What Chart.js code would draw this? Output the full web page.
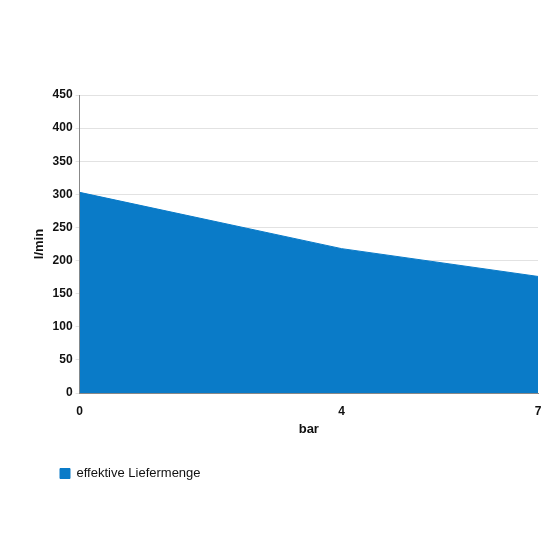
<!DOCTYPE html>
<html>
<head>
<meta charset="utf-8">
<script src="https://cdn.jsdelivr.net/npm/chart.js@4/dist/chart.umd.min.js"></script>
<style>
  body { margin: 0; background: #fff; }
  #wrap { position: absolute; left: 0; top: 0; width: 550px; height: 550px; }
</style>
</head>
<body>
<div id="wrap"><canvas id="chart" width="550" height="550"></canvas></div>
<script>
// data
const pressures = [0, 4, 7];
const flowRates = [303, 218, 176];
const seriesName = "effektive Liefermenge";

const points = pressures.map((p, i) => ({ x: p, y: flowRates[i] }));

new Chart(document.getElementById("chart"), {
  type: "line",
  data: {
    datasets: [{
      label: seriesName,
      data: points,
      borderColor: "#0a7bc8",
      backgroundColor: "#0a7bc8",
      borderWidth: 1,
      fill: "origin",
      pointRadius: 0,
      tension: 0
    }]
  },
  options: {
    responsive: false,
    animation: false,
    layout: { padding: { left: 30, right: 12, top: 95, bottom: 60 } },
    plugins: {
      legend: {
        position: "bottom",
        align: "start",
        labels: {
          boxWidth: 10, boxHeight: 10, color: "#111",
          font: { family: "Liberation Sans", size: 13 },
          padding: 30
        }
      },
      tooltip: { enabled: false }
    },
    scales: {
      x: {
        type: "linear", min: 0, max: 7,
        afterBuildTicks: axis => { axis.ticks = pressures.map(v => ({ value: v })); },
        grid: { display: false },
        border: { color: "#888" },
        ticks: { color: "#111", font: { family: "Liberation Sans", size: 12, weight: "bold" } },
        title: { display: true, text: "bar", color: "#111", padding: 0,
          font: { family: "Liberation Sans", size: 13, weight: "bold" } }
      },
      y: {
        min: 0, max: 450,
        ticks: { stepSize: 50, color: "#111", font: { family: "Liberation Sans", size: 12, weight: "bold" } },
        grid: { color: "#e2e2e2", drawTicks: true, tickLength: 4 },
        border: { color: "#888" },
        title: { display: true, text: "l/min", color: "#111", padding: 2,
          font: { family: "Liberation Sans", size: 13, weight: "bold" } }
      }
    }
  }
});
</script>
</body>
</html>
